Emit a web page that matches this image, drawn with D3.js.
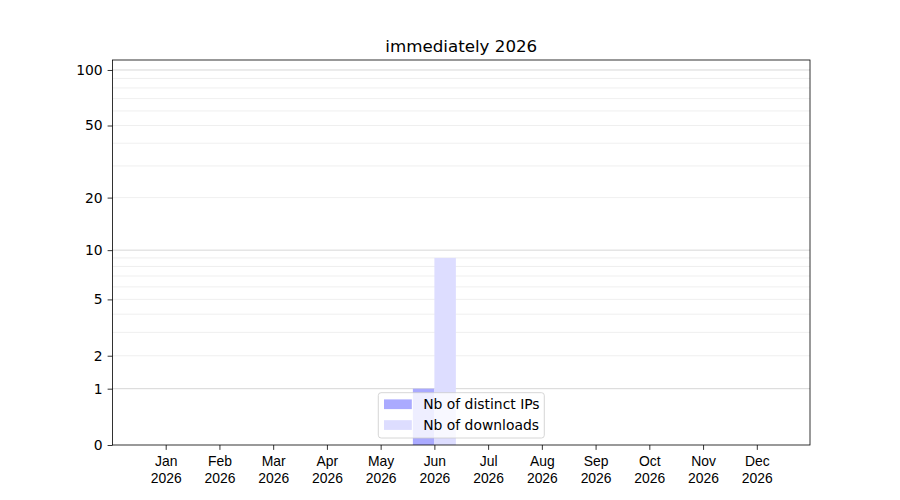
<!DOCTYPE html>
<html><head><meta charset="utf-8">
<script src="https://cdn.jsdelivr.net/npm/d3@7/dist/d3.min.js"></script>
<style>body{margin:0;background:#fff;}svg{display:block;font-family:"DejaVu Sans",sans-serif;}</style>
</head><body>
<script>
const title = "immediately 2026";
const months = ["Jan","Feb","Mar","Apr","May","Jun","Jul","Aug","Sep","Oct","Nov","Dec"];
const year = "2026";
const distinctIPs = [0,0,0,0,0,1,0,0,0,0,0,0];
const downloads   = [0,0,0,0,0,9,0,0,0,0,0,0];
const yTicks = [0,1,2,5,10,20,50,100];
const yMajorGrid = [1,10,100];
const yMinorGrid = [2,3,4,5,6,7,8,9,20,30,40,50,60,70,80,90];
const seriesNames = ["Nb of distinct IPs","Nb of downloads"];
const colors = ["#aaaaff","#ddddff"];

const W=900,H=500, L=112.5, R=810, T=60, B=445;
const svg = d3.select("body").append("svg").attr("width",W).attr("height",H);
const x = d3.scaleLinear().domain([-0.99, 11.99]).range([L,R]);
const y = d3.scaleSymlog().constant(1).domain([0,113.2]).range([B,T]);
const bw = 0.4;

// grid
svg.append("g").selectAll("line").data(yMinorGrid).join("line")
  .attr("x1",L).attr("x2",R).attr("y1",d=>y(d)).attr("y2",d=>y(d))
  .attr("stroke","#ebebeb").attr("stroke-width",0.8);
svg.append("g").selectAll("line").data(yMajorGrid).join("line")
  .attr("x1",L).attr("x2",R).attr("y1",d=>y(d)).attr("y2",d=>y(d))
  .attr("stroke","#cccccc").attr("stroke-width",0.8);

// bars
svg.append("g").selectAll("rect").data(distinctIPs).join("rect")
  .attr("x",(d,i)=>x(i-bw)).attr("width",(d,i)=>x(i)-x(i-bw))
  .attr("y",d=>y(d)).attr("height",d=>B-y(d)).attr("fill",colors[0]);
svg.append("g").selectAll("rect").data(downloads).join("rect")
  .attr("x",(d,i)=>x(i)).attr("width",(d,i)=>x(i+bw)-x(i))
  .attr("y",d=>y(d)).attr("height",d=>B-y(d)).attr("fill",colors[1]);

// axes
const fs = 13.9;
const xAxis = d3.axisBottom(x).tickValues(d3.range(12)).tickSize(4.9).tickPadding(4.9).tickFormat("");
const gx = svg.append("g").attr("transform",`translate(0,${B})`).call(xAxis);
gx.select(".domain").remove();
gx.selectAll(".tick line").attr("stroke","#000").attr("stroke-width",0.8);
gx.selectAll(".tick").append("text").attr("fill","#000").attr("text-anchor","middle")
  .style("font-size",fs+"px")
  .each(function(d){
    const t=d3.select(this);
    t.append("tspan").attr("x",0).attr("y",21).text(months[d]);
    t.append("tspan").attr("x",0).attr("y",37.5).text(year);
  });

const yAxis = d3.axisLeft(y).tickValues(yTicks).tickSize(4.9).tickPadding(4.9).tickFormat(d3.format("d"));
const gy = svg.append("g").attr("transform",`translate(${L},0)`).call(yAxis);
gy.select(".domain").remove();
gy.selectAll(".tick line").attr("stroke","#000").attr("stroke-width",0.8);
gy.selectAll(".tick text").attr("fill","#000").style("font-size",fs+"px").style("font-family","DejaVu Sans");

// frame
svg.append("rect").attr("x",L).attr("y",T).attr("width",R-L).attr("height",B-T)
  .attr("fill","none").attr("stroke","#000").attr("stroke-width",0.8);

// title
svg.append("text").attr("x",(L+R)/2).attr("y",51.5).attr("text-anchor","middle")
  .style("font-size","16.7px").attr("fill","#000").text(title);

// legend
const lg = svg.append("g");
const lx=378.3, ly=392.7, lw=166, lh=45.3;
lg.append("rect").attr("x",lx).attr("y",ly).attr("width",lw).attr("height",lh)
  .attr("rx",2.8).attr("fill","#fff").attr("fill-opacity",0.8)
  .attr("stroke","#cccccc").attr("stroke-width",0.8);
seriesNames.forEach((n,i)=>{
  const cy = 404.3 + i*20.8;
  lg.append("rect").attr("x",384).attr("y",cy-4.9).attr("width",27.8).attr("height",9.7).attr("fill",colors[i]);
  lg.append("text").attr("x",423.2).attr("y",cy+4.8).style("font-size",fs+"px").attr("fill","#000").text(n);
});
</script>
</body></html>
